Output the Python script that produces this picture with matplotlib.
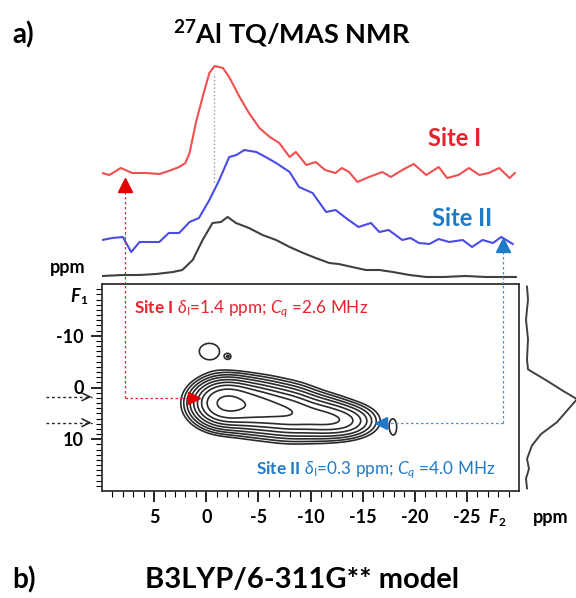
import numpy as np
import matplotlib.pyplot as plt

plt.rcParams['font.family'] = ['Lato', 'DejaVu Sans']
plt.rcParams['axes.unicode_minus'] = False
plt.rcParams['mathtext.fontset'] = 'custom'
plt.rcParams['mathtext.rm'] = 'Lato'
plt.rcParams['mathtext.it'] = 'Lato:italic'
plt.rcParams['mathtext.bf'] = 'Lato:bold'

# F2 projections (ppm, intensity above own baseline)
red_ppm = [10, 9.3, 8.2, 7.1, 5.8, 4.5, 3.6, 2.6, 2.0, 1.6, 1.0, 0.35, -0.3, -0.8, -1.6,
           -2.2, -3.2, -4.1, -5.1, -6.1, -7.0, -8.0, -8.6, -9.6, -10.5, -11.4, -12.4, -13.0,
           -13.7, -14.5, -15.6, -16.9, -17.7, -18.8, -19.9, -21.1, -22.3, -23.1, -24.2,
           -25.2, -26.2, -27.1, -28.1, -29.1, -29.6]
red_int = [0, -2, 5, 0, 0, -1, 2, 6, 10, 20, 50, 76, 100, 107, 105,
           96, 76, 60, 45, 36, 30, 16, 21, 8, 11, 3, 0, 5,
           1, -9, -4, 1, -4, 3, 9, -2, 6, -5, -2,
           5, -2, 0, 5, -5, 0]
blue_ppm = [10, 9.0, 8.0, 7.2, 6.4, 5.5, 4.5, 3.6, 2.6, 1.6, 0.7, -0.3, -1.25, -2.2, -2.9,
            -3.65, -4.8, -5.7, -6.7, -8.0, -8.9, -10.2, -11.5, -12.4, -13.4, -14.6, -15.8,
            -16.6, -17.5, -18.8, -19.6, -20.4, -21.4, -22.3, -23.3, -24.6, -25.5, -26.5,
            -27.5, -28.3, -29.4]
blue_int = [1, 3, 4, -11, -1, -1, -1, 8, 8, 19, 23, 41, 61, 84, 86,
            91, 89, 84, 78, 69, 54, 48, 29, 31, 23, 14, 18,
            9, 11, 1, 3, -2, -3, 2, -1, 1, -6, 1,
            -2, 4, -3]
black_ppm = [10, 8.0, 6.4, 4.8, 3.2, 2.3, 1.3, 0.35, -0.6, -1.4, -2.05, -2.85, -4.1, -5.4,
             -6.7, -8.0, -9.3, -10.5, -11.8, -12.7, -14.0, -15.3, -16.6, -17.9, -19.5,
             -21.1, -22.7, -24.9, -26.8, -29.7]
black_int = [0, 1, 1, 2, 4, 6, 16, 36, 53, 54, 59, 53, 48, 41,
             36, 29, 23, 18, 13, 12, 9, 6, 6, 4, 1,
             -1, -1, 0, -1, -1]

# F1 projection
proj_ppm = [-19.5, -17, -13.1, -9.3, -5.4, -3.5, -1.3, 0.65, 2.25, 3.3, 4.5, 6.7, 9.0,
            11.2, 13.8, 15.7, 17.6, 19.5]
proj_int = [0, 1, -1, 1, 0, 1, 20, 36, 50, 56, 50, 30, 14, 5, 0, 2, -1, 0]

# 2D peak components (F2 centre, F1 centre, F2 width, F1 width, amplitude)
pk_f2 = [-1.8, -5.0, -8.0, -11.0, -13.5, -17.95, -0.3, -2.1]
pk_f1 = [3.0, 3.8, 4.8, 5.8, 6.5, 7.75, -7.0, -6.0]
pk_w2 = [1.7, 1.7, 1.7, 1.7, 1.7, 0.37, 1.1, 0.26]
pk_w1 = [2.5, 2.7, 2.7, 2.3, 1.9, 1.75, 1.75, 0.5]
pk_amp = [1.0, 0.55, 0.45, 0.33, 0.25, 0.058, 0.065, 0.055]
rel_levels = [0.04, 0.06, 0.09, 0.13, 0.19, 0.27, 0.38, 0.55, 0.85]

RED, BLUE = '#e8232d', '#1f7ac8'

W, H = 576, 598
fig = plt.figure(figsize=(W / 100, H / 100), dpi=100)


def box(x0, y0, x1, y1):
    return [x0 / W, 1 - y1 / H, (x1 - x0) / W, (y1 - y0) / H]


ax = fig.add_axes(box(102, 284, 519, 491))
top = fig.add_axes(box(102, 40, 519, 284))
proj = fig.add_axes(box(519, 284, 576, 491))

# --- 2D contour
f2 = np.linspace(10, -30, 500)
f1 = np.linspace(-20, 20, 400)
X, Y = np.meshgrid(f2, f1)
Z = np.zeros_like(X)
for c2, c1, w2, w1, a in zip(pk_f2, pk_f1, pk_w2, pk_w1, pk_amp):
    Z += a * np.exp(-0.5 * ((X - c2) / w2) ** 2 - 0.5 * ((Y - c1) / w1) ** 2)
ax.contour(X, Y, Z, levels=np.array(rel_levels) * Z.max(), colors='#2a2a2a', linewidths=1.2)

ax.set_xlim(10, -30)
ax.set_ylim(20, -20)
ax.set_xticks([5, 0, -5, -10, -15, -20, -25])
ax.set_xticks(np.arange(9, -30, -1), minor=True)
ax.set_yticks([-10, 0, 10])
ax.set_yticks(np.arange(-19, 20, 1), minor=True)
ax.tick_params(which='major', direction='out', length=8, width=1.2, labelsize=13, pad=5)
ax.tick_params(which='minor', direction='out', length=4, width=0.8)
for lab in ax.get_xticklabels() + ax.get_yticklabels():
    lab.set_fontweight('bold')
for s in ax.spines.values():
    s.set_linewidth(1.3)
    s.set_color('#333333')

ax.text(-0.064, 0.94, 'F', transform=ax.transAxes, fontsize=13, fontweight='bold',
        style='italic', ha='center', va='center')
ax.text(-0.044, 0.92, '1', transform=ax.transAxes, fontsize=8.5, fontweight='bold',
        ha='center', va='center')
ax.text(0.938, -0.13, 'F', transform=ax.transAxes, fontsize=13, fontweight='bold',
        style='italic', ha='center', va='center')
ax.text(0.958, -0.15, '2', transform=ax.transAxes, fontsize=8.5, fontweight='bold',
        ha='center', va='center')
ax.text(1.075, -0.13, 'ppm', transform=ax.transAxes, fontsize=13, fontweight='bold',
        ha='center', va='center')

ax.text(6.9, -15.2, r'$\mathbf{Site\ I}$ $\delta_\mathrm{I}$=1.4 ppm; $C_q$ =2.6 MHz',
        color=RED, fontsize=12.3, ha='left', va='center')
ax.text(-27.7, 16.0, r'$\mathbf{Site\ II}$ $\delta_\mathrm{I}$=0.3 ppm; $C_q$ =4.0 MHz',
        color=BLUE, fontsize=12.3, ha='right', va='center')

# guide lines in the 2D panel
ax.plot([7.8, 7.8], [2.1, -20], color=RED, lw=0.9, ls=(0, (2, 2)), clip_on=False)
ax.plot([7.8, 1.2], [2.1, 2.1], color=RED, lw=0.9, ls=(0, (2, 2)))
ax.plot([1.2], [2.1], marker='>', color='#e00000', ms=9)
ax.plot([-28.5, -28.5], [6.9, -20], color='#4a90d0', lw=0.9, ls=(0, (2, 2)), clip_on=False)
ax.plot([-28.5, -16.8], [6.9, 6.9], color='#4a90d0', lw=0.9, ls=(0, (2, 2)))
ax.plot([-16.8], [6.9], marker='<', color=BLUE, ms=9)
for yy in [1.8, 6.8]:
    ax.plot([15.4, 11.0], [yy, yy], color='#222222', lw=1.0, ls=(0, (2, 2)), clip_on=False)
    ax.annotate('', xy=(10.75, yy), xytext=(11.6, yy), annotation_clip=False,
                arrowprops=dict(arrowstyle='->', color='#222222', lw=1.1, mutation_scale=14))

# --- stacked F2 traces
top.plot(red_ppm, np.array(red_int) + 111, color='#ef5050', lw=1.5)
top.plot(blue_ppm, np.array(blue_int) + 43, color='#4b4be6', lw=1.5)
top.plot(black_ppm, np.array(black_int) + 8, color='#404040', lw=1.5)
top.plot([-0.77, -0.77], [102, 211], color='#888888', lw=0.9, ls=(0, (1, 2)))
top.plot([7.8, 7.8], [0, 96], color=RED, lw=0.9, ls=(0, (2, 2)))
top.plot([7.8], [99], marker='^', color='#e00000', ms=10)
top.plot([-28.5, -28.5], [0, 34], color='#4a90d0', lw=0.9, ls=(0, (2, 2)))
top.plot([-28.5], [39], marker='^', color=BLUE, ms=10)
top.set_xlim(10, -30)
top.set_ylim(0, 244)
top.axis('off')

# --- F1 projection
proj.plot(proj_int, proj_ppm, color='#404040', lw=1.4)
proj.set_xlim(-8, 49)
proj.set_ylim(20, -20)
proj.axis('off')

# --- labels
fig.text(23 / W, 1 - 35 / H, 'a)', fontsize=20, fontweight='bold', ha='center', va='center')
fig.text(292 / W, 1 - 34 / H, r'$^\mathbf{27}$Al TQ/MAS NMR', fontsize=19.5, fontweight='bold',
         ha='center', va='center')
fig.text(455 / W, 1 - 138 / H, 'Site I', fontsize=17, fontweight='bold', color=RED,
         ha='center', va='center')
fig.text(462 / W, 1 - 218 / H, 'Site II', fontsize=17, fontweight='bold', color=BLUE,
         ha='center', va='center')
fig.text(68 / W, 1 - 267 / H, 'ppm', fontsize=13, fontweight='bold', ha='center', va='center')
fig.text(24 / W, 1 - 580 / H, 'b)', fontsize=20, fontweight='bold', ha='center', va='center')
fig.text(302 / W, 1 - 580 / H, 'B3LYP/6-311G** model', fontsize=21, fontweight='bold',
         ha='center', va='center')

fig.savefig('out.png', dpi=100)
